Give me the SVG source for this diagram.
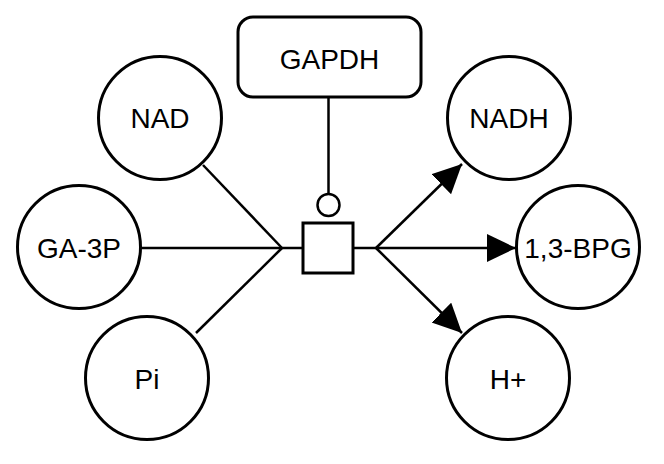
<svg xmlns="http://www.w3.org/2000/svg" width="664" height="464" viewBox="0 0 664 464">
<style>
.node{fill:#fff;stroke:#000;stroke-width:3}
.lbl{font-family:"Liberation Sans",Arial,sans-serif;font-size:28px;fill:#000;text-anchor:middle}
.edge{stroke:#000;stroke-width:2.5;fill:none}
</style>
<defs>
<marker id="arr" markerUnits="userSpaceOnUse" markerWidth="30" markerHeight="30" refX="29" refY="14" orient="auto">
<path d="M0,0 L29,14 L0,28 z" fill="#000"/>
</marker>
</defs>
<rect width="664" height="464" fill="#fff"/>
<g id="connectors">
<line class="edge" x1="328.5" y1="97" x2="328.5" y2="194"/>
<line class="edge" x1="203" y1="165" x2="282" y2="248"/>
<line class="edge" x1="141" y1="248" x2="303" y2="248"/>
<line class="edge" x1="196" y1="333" x2="282" y2="248"/>
<line class="edge" x1="353" y1="248" x2="376" y2="248"/>
<line class="edge" x1="376" y1="248" x2="462" y2="164" marker-end="url(#arr)"/>
<line class="edge" x1="376" y1="248" x2="516" y2="248" marker-end="url(#arr)"/>
<line class="edge" x1="376" y1="248" x2="462" y2="333" marker-end="url(#arr)"/>
</g>
<g id="GAPDH">
<rect class="node" x="238" y="17" width="183" height="80" rx="15"/>
<text class="lbl" x="329.5" y="69">GAPDH</text>
</g>
<g id="catalysis">
<circle class="edge" cx="328.5" cy="205" r="11" fill="#fff" stroke-width="3"/>
</g>
<g id="process">
<rect class="node" x="303" y="223" width="50" height="50" stroke-width="3.5"/>
</g>
<g id="NAD">
<circle class="node" cx="160" cy="118" r="61.5"/>
<text class="lbl" x="160" y="128">NAD</text>
</g>
<g id="GA-3P">
<circle class="node" cx="79" cy="247" r="61.5"/>
<text class="lbl" x="79" y="257.5">GA-3P</text>
</g>
<g id="Pi">
<circle class="node" cx="147" cy="378" r="61.5"/>
<text class="lbl" x="147" y="388.5">Pi</text>
</g>
<g id="NADH">
<circle class="node" cx="509" cy="118" r="61.5"/>
<text class="lbl" x="509" y="128">NADH</text>
</g>
<g id="BPG">
<circle class="node" cx="578" cy="247" r="61.5"/>
<text class="lbl" x="578" y="257.5">1,3-BPG</text>
</g>
<g id="Hplus">
<circle class="node" cx="508" cy="378" r="61.5"/>
<text class="lbl" x="508" y="388.5">H+</text>
</g>
</svg>
